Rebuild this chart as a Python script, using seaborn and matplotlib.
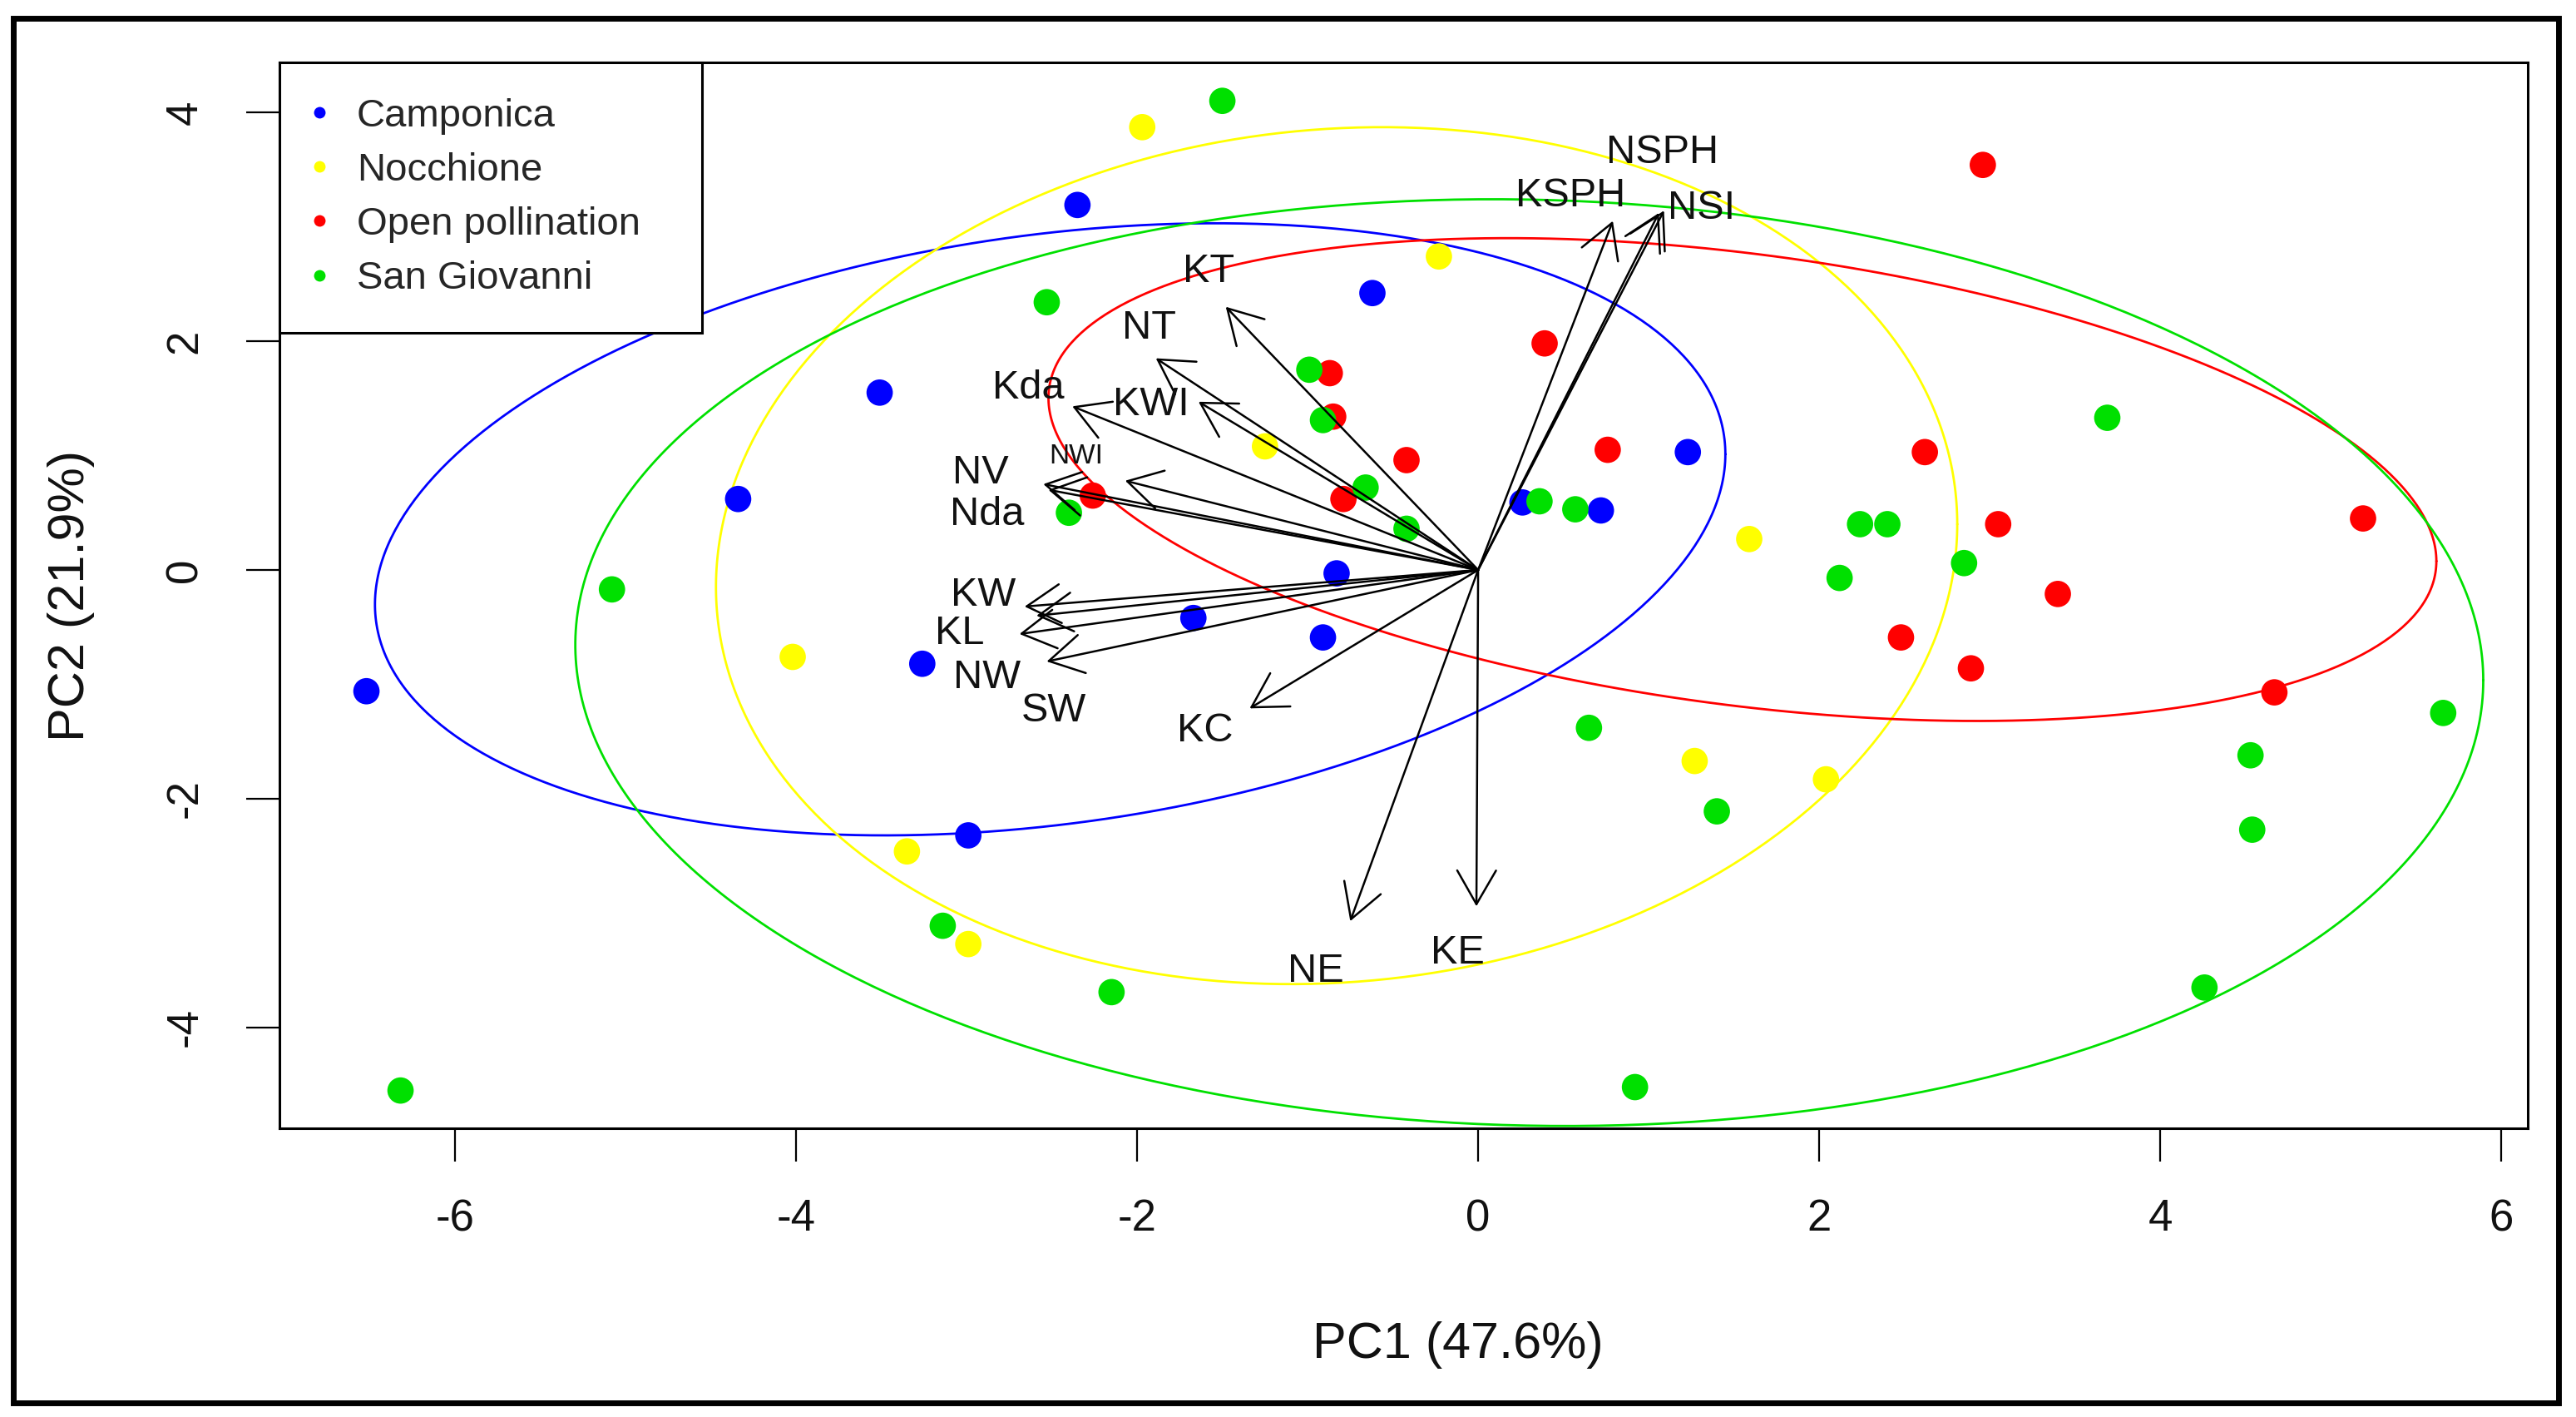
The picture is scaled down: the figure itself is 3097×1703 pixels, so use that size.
import numpy as np
import pandas as pd
import matplotlib
matplotlib.use("Agg")
import matplotlib.pyplot as plt
import seaborn as sns
from matplotlib.lines import Line2D
from matplotlib.patches import Rectangle

# ---------------- data ----------------
groups = ["Camponica", "Nocchione", "Open pollination", "San Giovanni"]
colors = ["#0000FF", "#FFFF00", "#FF0000", "#00E000"]

camp_x = [-2.35, -0.62, -3.51, -4.34, -6.52, -3.26, -2.99, -1.67, -0.83, -0.91, 1.23, 0.72, 0.26]
camp_y = [3.19, 2.42, 1.55, 0.62, -1.06, -0.82, -2.32, -0.42, -0.03, -0.59, 1.03, 0.52, 0.59]

noc_x = [-1.97, -0.23, -1.25, 1.59, -4.02, 1.27, 2.04, -3.35, -2.99]
noc_y = [3.87, 2.74, 1.08, 0.27, -0.76, -1.67, -1.83, -2.46, -3.27]

open_x = [2.96, 0.39, -0.87, -0.85, -0.42, 0.76, -0.79, -2.26, 2.62, 3.05, 5.19, 3.40, 2.48, 2.89, 4.67]
open_y = [3.54, 1.98, 1.72, 1.34, 0.96, 1.05, 0.62, 0.65, 1.03, 0.40, 0.45, -0.21, -0.59, -0.86, -1.07]

sg_x = [-1.50, -2.53, -0.99, -0.91, -0.66, -0.42, -2.40, 0.36, 0.57, -5.08, 3.69, 2.24, 2.40,
        2.12, 2.85, 0.65, 1.40, 4.53, 4.54, 5.66, 4.26, -3.14, -2.15, -6.32, 0.92]
sg_y = [4.10, 2.34, 1.75, 1.31, 0.72, 0.36, 0.50, 0.60, 0.53, -0.17, 1.33, 0.40, 0.40,
        -0.07, 0.06, -1.38, -2.11, -1.62, -2.27, -1.25, -3.65, -3.11, -3.69, -4.55, -4.52]

# ellipse parameters per group: centre, x/y half-extent and covariance-like term
ell_cx = [-2.51, -0.83, 1.55, 0.30]
ell_cy = [0.355, 0.125, 0.79, -0.81]
ell_sx = [3.96, 3.64, 4.07, 5.595]
ell_sy = [2.675, 3.745, 2.11, 4.05]
ell_cxy = [2.6, 1.0, -2.9, -0.87]

# variable loadings (arrow tips) and label positions
var_names = ["NSPH", "KSPH", "NSI", "KT", "NT", "Kda", "KWI", "NWI", "NV", "Nda",
             "KW", "SW", "KL", "NW", "KC", "NE", "KE"]
var_x = [1.06, 0.79, 1.09, -1.48, -1.89, -2.38, -1.64, -2.07, -2.55, -2.52,
         -2.66, -2.59, -2.69, -2.53, -1.34, -0.75, -0.01]
var_y = [3.12, 3.05, 3.14, 2.30, 1.85, 1.43, 1.47, 0.78, 0.75, 0.70,
         -0.32, -0.40, -0.56, -0.80, -1.21, -3.07, -2.94]
lab_x = [1.08, 0.54, 1.31, -1.58, -1.93, -2.64, -1.92, -2.36, -2.92, -2.88,
         -2.90, -2.49, -3.04, -2.88, -1.60, -0.95, -0.12]
lab_y = [3.65, 3.27, 3.16, 2.61, 2.11, 1.59, 1.44, 0.99, 0.85, 0.48,
         -0.22, -1.23, -0.56, -0.94, -1.41, -3.51, -3.35]

x_ticks = [-6, -4, -2, 0, 2, 4, 6]
y_ticks = [-4, -2, 0, 2, 4]
x_label = "PC1 (47.6%)"
y_label = "PC2 (21.9%)"

# ---------------- build table ----------------
xs = [camp_x, noc_x, open_x, sg_x]
ys = [camp_y, noc_y, open_y, sg_y]
df = pd.concat([pd.DataFrame({"PC1": x, "PC2": y, "group": g}) for x, y, g in zip(xs, ys, groups)],
               ignore_index=True)
palette = dict(zip(groups, colors))

# ---------------- figure ----------------
sns.set_style("white")
plt.rcParams["font.family"] = ["Liberation Sans", "DejaVu Sans"]
plt.rcParams["axes.unicode_minus"] = False

W_PX, H_PX, DPI = 3097, 1703, 200
fig = plt.figure(figsize=(W_PX / DPI, H_PX / DPI), dpi=DPI)
left, right, top, bottom = 336, 3039, 75, 1356
ax = fig.add_axes([left / W_PX, 1 - bottom / H_PX, (right - left) / W_PX, (bottom - top) / H_PX])

# ellipses
t = np.linspace(0, 2 * np.pi, 500)
for g, cx, cy, sx, sy, cxy in zip(groups, ell_cx, ell_cy, ell_sx, ell_sy, ell_cxy):
    S = np.array([[sx ** 2, cxy], [cxy, sy ** 2]])
    Lc = np.linalg.cholesky(S)
    pts = Lc @ np.vstack([np.cos(t), np.sin(t)])
    ax.plot(cx + pts[0], cy + pts[1], color=palette[g], lw=1.0, zorder=2)

# points
sns.scatterplot(data=df, x="PC1", y="PC2", hue="group", hue_order=groups, palette=palette,
                s=130, linewidth=0, legend=False, ax=ax, zorder=3)

# arrows and labels
for name, vx, vy, tx, ty in zip(var_names, var_x, var_y, lab_x, lab_y):
    ax.annotate("", xy=(vx, vy), xytext=(0, 0),
                arrowprops=dict(arrowstyle="->,head_length=0.73,head_width=0.42",
                                mutation_scale=20, color="black", lw=0.9,
                                shrinkA=0, shrinkB=0),
                zorder=4)
    fs = 12 if name == "NWI" else 17.5
    ax.text(tx, ty, name, ha="center", va="center", fontsize=fs, color="#111111", zorder=5)

# axes styling
ax.set_xlim(-7.03, 6.156)
ax.set_ylim(-4.88, 4.436)
ax.set_xticks(x_ticks)
ax.set_yticks(y_ticks)
ax.set_xticklabels([str(v) for v in x_ticks])
ax.set_yticklabels([str(v) for v in y_ticks])
ax.tick_params(axis="both", direction="out", length=14.4, width=0.8, color="black",
               labelsize=19, labelcolor="#111111", bottom=True, left=True)
ax.tick_params(axis="x", pad=16)
ax.tick_params(axis="y", pad=17.5, labelrotation=90)
for lab in ax.get_yticklabels():
    lab.set_va("center")
for sp in ax.spines.values():
    sp.set_color("black")
    sp.set_linewidth(1.1)
ax.grid(False)

ax.set_xlabel(x_label, fontsize=22, color="#111111")
ax.set_ylabel(y_label, fontsize=22, color="#111111")
ax.xaxis.set_label_coords(0.524, -0.203)
ax.xaxis.label.set_va("center")
ax.yaxis.set_label_coords(-0.0925, 0.5)
ax.yaxis.label.set_va("center")

# legend
handles = [Line2D([0], [0], marker="o", linestyle="none", markersize=5,
                  markerfacecolor=c, markeredgewidth=0) for c in colors]
leg = ax.legend(handles, groups, loc="upper left",
                bbox_to_anchor=(0, 1 - 0.2514, 0.188, 0.2514), mode="expand",
                borderaxespad=0, fontsize=17, frameon=True, fancybox=False,
                framealpha=1, edgecolor="black", borderpad=0.9, labelspacing=0.45,
                handlelength=0.25, handletextpad=0.82)
leg.get_frame().set_linewidth(1.1)
leg.set_zorder(6)

# outer border of the figure
fig.patches.append(Rectangle((16 / W_PX, 1 - 1686 / H_PX), (3076 - 16) / W_PX, (1686 - 22) / H_PX,
                             transform=fig.transFigure, fill=False, lw=2.5, ec="black"))

fig.savefig("out.png", dpi=DPI)
